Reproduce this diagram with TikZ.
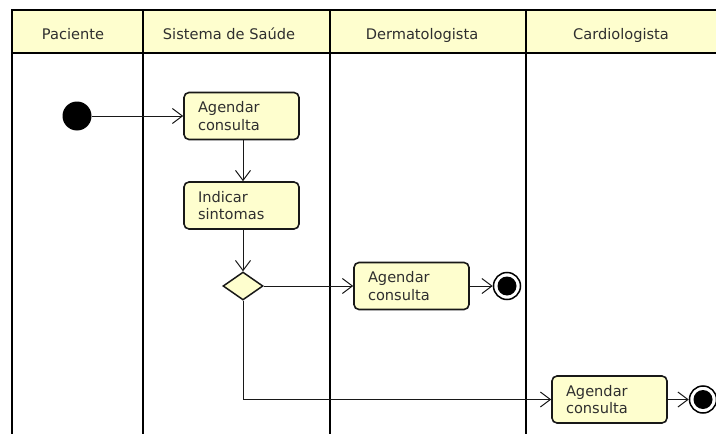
\documentclass[tikz,border=0pt]{standalone}
\usepackage{fontspec}
\setmainfont{DejaVu Sans}
\usetikzlibrary{arrows.meta,shapes.geometric}
\definecolor{umlfill}{HTML}{FEFECE}
\definecolor{umlline}{HTML}{181818}
\begin{document}
\begin{tikzpicture}[x=1pt,y=-1pt,
  lane/.style={line width=2pt,draw=black},
  act/.style={draw=umlline,fill=umlfill,line width=1.6pt,rounded corners=5pt,
    minimum width=115pt,minimum height=47pt,text width=87pt,inner xsep=14pt,
    align=left,font=\fontsize{14.6}{17.5}\selectfont,text=umlline!90},
  title/.style={font=\fontsize{14.6}{17}\selectfont,anchor=base,text=umlline!90},
  flow/.style={draw=umlline,line width=1pt,-{Straight Barb[length=10pt,width=15pt,line width=1pt]}},
  decision/.style={diamond,draw=umlline,fill=umlfill,line width=1.5pt,
    minimum width=40pt,minimum height=28pt,inner sep=0pt,aspect=1.43},
  startnode/.style={circle,fill=black,minimum size=29pt,inner sep=0pt},
  endnode/.style={circle,draw=black,fill=white,line width=1.5pt,minimum size=27pt,inner sep=0pt,
    path picture={\fill[black] (path picture bounding box.center) circle (9.5pt);}}]
\useasboundingbox (0,0) rectangle (716,434);
\clip (0,0) rectangle (716,434);

% swimlane headers
\fill[umlfill] (12,10) rectangle (730,53);
\draw[lane] (730,10) -- (12,10) -- (12,53) -- (730,53);
\foreach \x in {12,143,330,526} \draw[lane] (\x,10) -- (\x,440);

\node[title] (hpac) at (73,39) {Paciente};
\node[title] (hsis) at (229,39) {Sistema de Saúde};
\node[title] (hder) at (422,39) {Dermatologista};
\node[title] (hcar) at (621,39) {Cardiologista};

% activity nodes
\node[startnode] (start) at (77,116) {};
\node[act] (agendar) at (241.5,116) {Agendar\\consulta};
\node[act] (sintomas) at (241.5,205.5) {Indicar\\sintomas};
\node[decision] (dec) at (243,286) {};
\node[act] (agderm) at (411.5,286) {Agendar\\consulta};
\node[endnode] (endderm) at (507,286) {};
\node[act] (agcard) at (609.5,399.5) {Agendar\\consulta};
\node[endnode] (endcard) at (703,399.5) {};

% control flow
\draw[flow] (start) -- (agendar);
\draw[flow] (agendar.south -| dec.north) -- (sintomas.north -| dec.north);
\draw[flow] (sintomas.south -| dec.north) -- (dec.north);
\draw[flow] (dec.east) -- (agderm);
\draw[flow] (agderm) -- (endderm);
\draw[flow] (dec.south) |- (agcard.west);
\draw[flow] (agcard) -- (endcard);
\end{tikzpicture}
\end{document}
